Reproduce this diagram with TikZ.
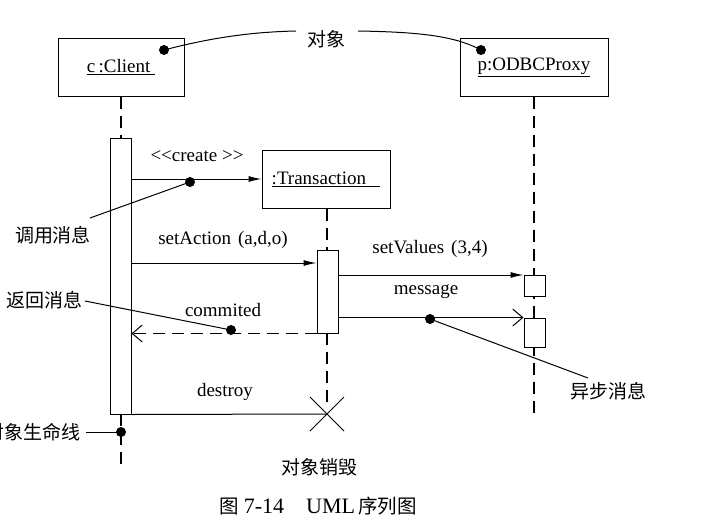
\documentclass[tikz,border=0pt]{standalone}
\usepackage{fontspec}
\setmainfont{Liberation Serif}
\newfontfamily\cjk{Noto Sans CJK SC}
\usetikzlibrary{arrows.meta}
\tikzset{
  obj/.style={draw, line width=1pt, fill=white, inner sep=0pt, font=\fontsize{19}{22}\selectfont},
  act/.style={draw, line width=1pt, fill=white, minimum width=21pt, inner sep=0pt},
  life/.style={line width=1.6pt, dash pattern=on 12pt off 7pt},
  msg/.style={line width=1pt, -{Latex[length=13pt,width=6pt]}},
  asyn/.style={line width=1pt, -{Straight Barb[length=10pt,width=17pt,line width=1pt]}},
  ret/.style={line width=1.6pt, dash pattern=on 12pt off 7pt, -{Straight Barb[length=10pt,width=17pt,line width=1pt]}},
  lbl/.style={inner sep=0pt, font=\fontsize{19}{22}\selectfont},
  clbl/.style={inner sep=0pt, font=\cjk\fontsize{19}{22}\selectfont},
  note/.style={line width=1pt},
  dot/.style={circle, fill=black, inner sep=0pt, minimum size=10pt},
}
\begin{document}
\begin{tikzpicture}[x=1pt,y=-1pt]
\useasboundingbox (0,0) rectangle (704,528);
% objects
\node[obj, minimum width=126pt, minimum height=58pt] (client) at (121,67) {\underline{c\,:Client\ }};
\node[obj, minimum width=148pt, minimum height=58pt] (proxy) at (534,67) {\underline{p:ODBCProxy}};
\node[obj, minimum width=128pt, minimum height=58pt] (trans) at (326,179) {\underline{:Transaction\ \ \ }};
% lifeline coordinates
\coordinate (cl1) at (121,138);
\coordinate (cl2) at (121,414);
\coordinate (cl3) at (121,465);
\coordinate (tl1) at (327,250);
\coordinate (tl2) at (327,333);
\coordinate (tx) at (327,414);
\coordinate (pl) at (534,415);
\draw[life] (client.south) -- (cl1);
\draw[life] (cl2) -- (cl3);
\draw[life] (trans.south -| tl1) -- (tl1);
\draw[life] (tl2) -- (327,402);
\draw[life] (proxy.south) -- (pl);
% activations
\node[act, minimum height=276pt] (ac) at (120.5,276) {};
\node[act, minimum height=83pt] (at) at (327.5,291.5) {};
\node[act, minimum height=21pt] (ap1) at (534.5,286) {};
\node[act, minimum height=29pt] (ap2) at (534.5,332.5) {};
% messages
\draw[msg] (ac.east |- trans.west) -- (trans.west);
\draw[msg] (ac.east |- 0,263) -- (at.west |- 0,263);
\draw[msg] (at.east |- ap1.north) -- (ap1.north west);
\draw[asyn] (at.east |- ap2.north) -- (ap2.north west);
\draw[ret] (at.south west) -- (ac.east |- at.south west);
\draw[line width=1pt] (ac.south east) -- (tx);
\draw[line width=1pt] (310,397) -- (344,431) (344,397) -- (310,431);
% labels
\node[lbl] (lcreate) at (197,156) {<{}<create >{}>};
\node[lbl] (lsetA) at (223,240) {setAction\hspace{7pt}(a,d,o)};
\node[lbl] (lsetV) at (430,249) {setValues\hspace{7pt}(3,4)};
\node[lbl] (lmsg) at (426,292) {message};
\node[lbl] (lcom) at (223,310) {commited};
\node[lbl] (ldes) at (225,392) {destroy};
% dots
\node[dot] (d1) at (164,50) {};
\node[dot] (d2) at (481,50) {};
\node[dot] (d3) at (190,182) {};
\node[dot] (d4) at (231,330) {};
\node[dot] (d5) at (430,319) {};
\node[dot] (d6) at (121,432) {};
% annotations
\node[clbl] (nobj) at (326,39) {对象};
\node[clbl] (ncall) at (53,235) {调用消息};
\node[clbl] (nret) at (44,300) {返回消息};
\node[clbl] (nasy) at (608,391) {异步消息};
\node[clbl, anchor=east] (nlife) at (81,432) {对象生命线};
\node[clbl] (ndes) at (319,467) {对象销毁};
\coordinate (o1) at (296,31);
\coordinate (o2) at (358,31);
\coordinate (c1) at (90,218);
\coordinate (r1) at (85,301);
\coordinate (a1) at (588,378);
\coordinate (l1) at (86,432);
\draw[note] (d1.center) .. controls (210,38) and (250,32) .. (o1);
\draw[note] (o2) .. controls (420,32) and (455,36) .. (d2.center);
\draw[note] (c1) -- (d3.center);
\draw[note] (r1) -- (d4.center);
\draw[note] (d5.center) -- (a1);
\draw[note] (l1) -- (d6.center);
% caption
\node[inner sep=0pt, font=\fontsize{22}{24}\selectfont] (cap) at (318,506) {{\cjk\fontsize{19.5}{24}\selectfont 图}\hspace{5pt}7-14\hspace{22pt}UML\hspace{3pt}{\cjk\fontsize{19.5}{24}\selectfont 序列图}};
\end{tikzpicture}
\end{document}
